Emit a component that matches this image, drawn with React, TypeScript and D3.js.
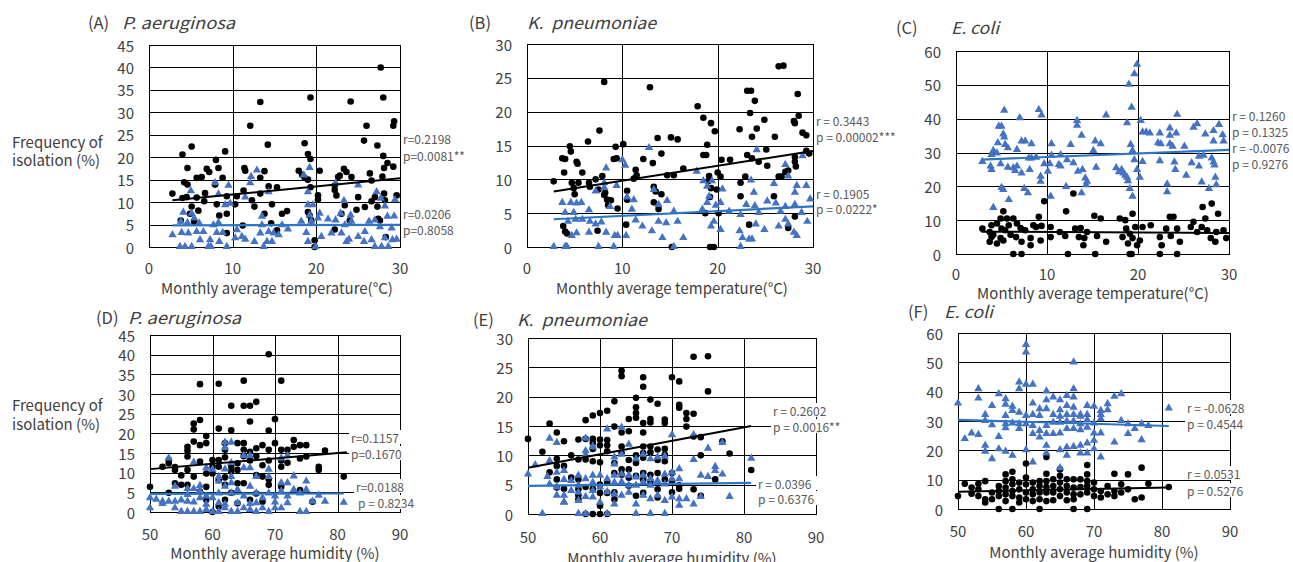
import React from 'react';
import * as d3 from 'd3';

type Pt = [number, number];

// ---------- DATA ----------
// Panel A: P. aeruginosa vs temperature
const A_circles: Pt[] = [[27.7,40],[13.3,32.3],[19.3,33.3],[24.1,32.4],[28.0,33.3],[12.1,27],[29.3,28],[29.2,27],[26,27],[4,20.6],[5.1,22.4],[9.1,21.3],[14.2,22.8],[18.6,23.1],[25.7,23.7],[27.3,22.6],[19,20.7],[19.3,19.6],[28.0,20.3],[4.6,17.6],[6.9,17.4],[7.2,16.7],[8.0,19.4],[8.3,17.6],[5.7,15.4],[6.3,15.6],[4.2,14.4],[4.6,13.9],[7.9,13.9],[8.8,15.4],[11.4,17.6],[11.5,17],[13.8,16.9],[13.3,15.4],[14.3,13.5],[15.3,13.3],[17.9,17],[18.3,16.1],[18.6,15.4],[19.0,15],[19.3,13.3],[20.4,17],[22.2,13.7],[22.6,15.6],[22.8,15.9],[23.3,17.4],[23.6,16.7],[24.2,15.6],[26.4,16.4],[26.6,14.8],[28.1,17.6],[28.5,18.7],[29.2,17.9],[27.9,15.7],[2.8,11.9],[4.0,10.9],[3.8,5.9],[4.5,11.1],[5.1,9],[4.9,7.4],[5.7,11],[6.7,12],[6.6,10.2],[8.1,9.5],[8.4,7],[9.3,11.3],[9.3,7.4],[10.3,9.5],[10.5,11.3],[11.3,12.6],[12.3,10.4],[12.6,9],[13.3,11.9],[13.8,7.4],[14.6,5.3],[14.7,9.5],[15.9,7.4],[16.5,8],[11.2,4.8],[15.3,3.7],[19.0,7.8],[19.2,7],[19.4,5.9],[19.8,1.5],[19.8,0],[20.2,11.5],[20.2,10.5],[22.2,12.7],[22.4,11.5],[23.0,7.4],[23.4,9.3],[24.0,5.9],[24.8,8.3],[25.0,11.1],[25.8,8.9],[26.6,10.2],[27.0,11.1],[27.3,9],[27.4,6.3],[27.6,5.9],[28.1,11.9],[28.2,10.4],[29.6,11.5],[28.3,2.2],[22.2,3.9],[5.4,5.6],[9.3,3.1],[5.9,8.1]];
const A_triangles: Pt[] = [[12.9,17],[19.2,17.6],[12.2,15.6],[7.9,14.2],[9.5,13.6],[5.0,12.4],[12.1,14.2],[22.3,14.2],[25.0,13.7],[18.5,15.9],[19.0,12.2],[14.3,12.2],[8.3,11.7],[11.5,11],[23.3,10.2],[27.2,12.2],[29.4,10.4],[27.7,10.7],[28.2,9],[9.1,9.3],[9.7,9.6],[4.1,7.6],[5.1,7.4],[5.4,6.3],[3.8,5.6],[4.6,5.3],[6.0,5.2],[7.7,4.8],[8.3,5.3],[10.5,3.7],[13.5,6.7],[13.5,4.8],[14.3,3.3],[14.9,3],[15.9,4.8],[16.6,3.9],[18.2,5.6],[19.0,9.3],[19.6,9.3],[19.2,7],[19.4,5.6],[20.2,6.3],[20.4,7.4],[21.4,6.1],[22.3,5.9],[22.9,7.4],[23.4,4.8],[24.1,7],[24.2,5.6],[25.8,3.3],[26.3,5.6],[27.0,5.9],[27.6,4.4],[28.5,6.7],[29.0,4.1],[29.3,6.8],[2.8,2.6],[3.9,3.1],[4.7,3],[5.7,3.3],[4.3,0],[5.1,0],[3.7,0],[7.1,0],[7.4,0],[9.3,0],[6.5,3.3],[7.3,1.5],[8.1,3.1],[8.8,3.1],[8.4,1.1],[6.1,1.5],[10.3,1.9],[11.1,2.2],[11.5,1.6],[12.6,1.1],[13.7,0],[14.1,1.1],[14.7,1.1],[13.3,3],[15.5,2.6],[18.8,3.1],[19.0,1.1],[19.9,0],[20.6,2.2],[21.8,3],[23.0,3],[23.6,1.1],[23.9,1.6],[25.0,2.2],[25.7,1.1],[26.6,1.5],[27.0,0],[27.8,0],[28.2,1.9],[29.1,1.5],[29.6,1.6],[28.6,0]];
const A_trendBlack: Pt[] = [[2.8,10.4],[30,15.3]];
const A_trendBlue: Pt[] = [[2.8,4.8],[30,4.95]];
const A_stats = ['r=0.2198', 'p=0.0081**', 'r=0.0206', 'p=0.8058'];

// Panel B: K. pneumoniae vs temperature
const B_circles: Pt[] = [[26.4,26.7],[26.9,26.8],[8.1,24.4],[12.9,23.6],[23.1,23.1],[23.5,23.1],[28.4,22.6],[23.9,21.6],[17.9,20.8],[18.5,19.1],[19.3,18.3],[19.7,17.1],[23.4,19.8],[24.9,18.8],[28.0,18.6],[28.1,18.3],[28.5,19.4],[22.3,17.4],[24.1,17.5],[23.6,16.3],[26.0,16.3],[28.9,16.9],[29.3,16.5],[7.6,17.2],[6.4,15.6],[4.5,14.9],[4.6,14.1],[3.7,13.1],[4.0,13.0],[5.2,12.6],[5.3,12.3],[3.9,11],[5.8,11],[2.8,9.7],[4.7,9.5],[4.9,8.7],[5.0,7.8],[5.4,9.5],[6.5,9.5],[6.6,8.9],[7.2,10],[7.9,10.5],[7.5,8.5],[8.1,7.7],[8.2,8],[8.4,7],[8.8,6.9],[8.5,6.2],[9.3,14.8],[9.1,13],[9.4,13.1],[10.1,15.2],[9.5,5.7],[3.8,3.1],[4.0,2.3],[4.2,2.0],[7.4,2.4],[10.5,8.3],[10.5,7],[10.4,3.3],[11.4,11.4],[11.5,10.6],[11.2,10.1],[12.2,13],[13.2,12.4],[13.7,16.1],[14.1,13.8],[15.1,16.2],[15.8,15.9],[13.3,8.9],[13.5,8.2],[13.3,6.6],[13.8,5.6],[14.1,7.8],[14.7,10.6],[15.4,10.6],[16.4,11.6],[18.5,13.6],[18.8,13.6],[18.9,15.1],[19.1,10.5],[19.0,9.7],[19.2,7.4],[19.3,8.7],[19.9,8.5],[20.0,11],[20.3,10.4],[20.4,12.9],[21.3,12.9],[22.4,9.5],[22.4,7.5],[22.9,10.4],[23.1,13.6],[23.6,13.1],[24.3,12.6],[25.2,12],[25.1,14.4],[25.9,7.5],[26.4,10.4],[26.7,10.4],[27.1,11.1],[27.4,11.3],[28.1,13.3],[28.1,12.6],[28.2,11.9],[29.3,14.2],[29.6,13.8],[23.3,3.3],[27.4,2.8],[28.1,4.5],[19.2,0],[19.6,0],[15.2,0],[18.7,5],[20.1,5]];
const B_triangles: Pt[] = [[12.8,14.6],[24.1,14.3],[28.9,13.4],[10.0,12.8],[10.3,12],[8.3,11.6],[17.8,11.1],[27.1,12.1],[27.4,10.4],[8.1,9.4],[8.1,8.7],[7.2,8.2],[9.4,9],[13.3,8.4],[10.5,7.3],[11.2,6.9],[14.7,6.8],[18.5,9.7],[18.9,8.9],[19.4,9.7],[20.5,8.5],[23.5,9.8],[23.8,8],[25.9,9.3],[28.1,8],[28.3,9],[29.3,9],[29.7,7],[3.7,6.5],[4.6,6.5],[5.2,6.4],[5.7,6.5],[4.0,5],[4.9,5],[6.5,5.4],[8.7,5.9],[11.0,5.5],[13.8,6.2],[15.4,5.2],[18.4,5.5],[18.9,6.5],[19.1,7.4],[19.8,6.1],[20.3,6.5],[21.2,5.2],[22.4,4.7],[23.0,6.2],[23.9,6],[24.3,5],[25.2,6.7],[26.1,6.4],[26.6,5.2],[27.1,5.9],[28.1,6.2],[28.8,5],[4.3,3.7],[5.1,4],[5.8,4],[6.6,3.7],[7.2,3.3],[7.8,3.6],[8.3,2.1],[6.5,2.1],[5.2,2],[4.7,1.6],[9.2,1.6],[9.5,1.6],[10.4,1.6],[11.4,3.9],[12.1,3],[13.1,2.3],[13.8,3.7],[14.6,3.5],[15.8,3.7],[14.2,1.3],[16.4,1.3],[19.6,3.7],[19.3,3],[20.3,2.5],[22.3,2.3],[22.6,1.3],[23.3,1.1],[23.6,1.1],[24.0,3.3],[24.9,2.5],[26.4,3],[27.1,4],[27.4,3.3],[28.0,2.1],[28.3,1.6],[29.4,3.7],[2.8,0],[4.0,0],[4.2,0],[7.5,0],[9.1,0],[15.4,0],[22.4,0]];
const B_trendBlack: Pt[] = [[2.8,8.2],[30,14.2]];
const B_trendBlue: Pt[] = [[2.8,4.1],[30,6.0]];
const B_stats = ['r = 0.3443', 'p = 0.00002***', 'r = 0.1905', 'p = 0.0222*'];

// Panel C: E. coli vs temperature
const C_triangles: Pt[] = [[19.9,55.9],[19.6,53.1],[19.0,50],[19.3,43.2],[18.8,38.6],[20.3,39.3],[5.3,42.3],[7.0,40.1],[9.1,42.5],[9.4,40.9],[16.5,40.9],[24.3,41.1],[4.7,37.6],[5.0,37.6],[5.2,35.3],[5.3,34.4],[4.6,32.7],[5.4,32.2],[5.7,31.2],[4.1,30.4],[4.5,29.7],[3.9,29.2],[2.9,27.2],[3.8,25.8],[3.9,24.8],[4.9,26.5],[5.7,25.5],[6.3,25.3],[6.5,24.5],[6.7,25.8],[7.2,23.8],[8.1,24.8],[7.2,33.2],[7.6,33.2],[8.3,32.4],[6.7,30.7],[8.0,28.2],[8.3,28.2],[8.8,28.4],[9.7,26.5],[9.3,22.8],[9.3,21.3],[5.0,19.5],[5.2,18.9],[7.5,19.2],[7.9,17.9],[5.8,15.9],[4.1,13.6],[10.5,29],[10.5,32.4],[10.1,24.3],[10.4,16.9],[11.5,29.2],[11.3,26.3],[11.5,25.8],[12.2,27.7],[12.6,32.2],[12.9,26.8],[13.3,39.3],[13.3,37.9],[13.4,24.3],[13.8,34.9],[13.9,24.8],[14.2,22.3],[14.4,21.3],[14.3,20.3],[13.8,17.9],[12.1,19.8],[15.3,33.2],[15.9,32.4],[15.1,30.4],[15.4,25.5],[17.6,25.3],[17.9,24.1],[18.2,24.8],[18.4,23.8],[18.6,23.1],[18.8,22.5],[18.9,21.5],[19.1,19.2],[19.4,16.9],[19.2,32.2],[19.4,30.4],[19.6,27.7],[19.9,24.8],[20.2,22.5],[20.5,35.9],[20.9,35.9],[21.3,35.6],[20.5,27.2],[22.4,35.6],[22.2,32.7],[22.5,32.4],[22.4,27.4],[23.2,20.5],[23.2,18.2],[23.5,37.1],[23.5,34.9],[24.2,35.6],[23.5,32.4],[23.8,31.7],[24.0,27],[24.1,24.8],[25.1,31.7],[25.3,23.1],[25.9,26.8],[26.1,37.3],[26.5,38.3],[26.7,28.7],[27.2,29],[26.7,25.8],[27.0,21.1],[27.4,35.3],[27.8,19.2],[28.1,28.2],[28.3,27],[28.4,26.1],[28.3,36.3],[28.6,20.3],[28.3,33.2],[28.9,38.1],[29.3,35.1],[29.4,33.2],[28.5,22.5],[10.3,26.5]];
const C_circles: Pt[] = [[12.9,17.9],[9.7,15.6],[12.1,12.6],[5.2,12.6],[19.4,11.9],[27.1,13.9],[28.1,14.9],[28.8,11.9],[15.2,11.3],[15.9,10.5],[18.0,10.5],[18.6,10],[23.5,11],[23.9,11],[4.9,10.5],[5.6,10.5],[6.3,10.5],[9.1,11],[3.9,8.5],[4.5,9],[2.9,7.5],[3.7,6.5],[4.1,5.7],[5.0,7.5],[5.4,7],[5.8,8.5],[6.7,9],[7.1,7.7],[7.6,7],[8.5,8.5],[8.8,8],[9.4,8.3],[4.9,4.7],[5.2,4],[4.5,3.1],[6.0,5.7],[6.6,5],[8.2,4.7],[8.2,2.6],[9.3,4],[6.3,0],[7.2,0],[10.4,8],[10.4,5],[11.4,6.5],[12.0,5.3],[12.3,0],[13.1,7.5],[13.7,7.7],[13.5,5],[14.1,4.7],[14.0,2.6],[14.4,6.5],[15.5,5.3],[15.3,0],[16.5,3.6],[18.3,5],[18.7,7.5],[18.9,3.1],[19.1,6],[19.4,4.7],[19.7,8],[19.1,0],[19.3,0],[19.9,2.6],[20.2,4],[20.5,8],[21.4,8.5],[22.4,5],[22.6,2.6],[22.4,0],[23.1,7.5],[23.6,5.3],[24.3,7.5],[24.3,0],[24.6,3.6],[25.8,8],[26.1,9.5],[26.5,6.5],[27.0,8],[27.4,10.5],[27.6,7],[28.0,4.7],[28.6,6.5],[29.4,7],[29.7,4.7],[28.5,3.6],[3.7,3.6],[7.2,3.6],[3.9,5]];
const C_trendBlue: Pt[] = [[2.8,27.9],[30,30.8]];
const C_trendBlack: Pt[] = [[2.8,6.6],[30,6.2]];
const C_stats = ['r = 0.1260', 'p = 0.1325', 'r = -0.0076', 'p = 0.9276'];

// Panel D: P. aeruginosa vs humidity
const D_circles: Pt[] = [[69,40.1],[58,32.5],[61,32.6],[65,33.4],[71,33.4],[63,27],[65,27],[66,27],[67,28],[57,21],[57,22.5],[58,23.4],[61,21.2],[63,20.8],[66,23],[69,20.7],[70,23.6],[59,19.3],[59,17.5],[58,17],[56,16.6],[56,15.6],[57,17.9],[58,12.8],[56,14.1],[54,11.4],[53,12.4],[53,13.2],[52,11.5],[50,6.4],[54,10.7],[55,9.3],[56,10.7],[57,9],[61,13.2],[62,17.5],[62,15.8],[61,11.5],[60,13.2],[60,11.5],[59,9.8],[60,9.8],[64,17.5],[65,17.5],[65,15.8],[65,14.2],[66,15.3],[67,16.2],[67,14.2],[66,13.1],[64,12.4],[63,11.5],[63,10.3],[64,10.7],[62,13.9],[62,8.8],[68,17],[69,15.8],[69,13.1],[70,17.5],[71,15.8],[72,15.8],[73,16.6],[73,18.3],[74,17],[75,17],[71,13.1],[71,11.5],[72,12.5],[74,13.6],[75,14.1],[78,15.6],[77,11.5],[77,10.7],[81,9],[68,11.9],[68,9],[69,8.3],[67,9.4],[65,7.3],[64,7.3],[62,6.9],[61,8.1],[59,6.4],[56,6.9],[55,6.9],[54,7.3],[53,4.9],[61,1.4],[60,0],[58,5.2],[63,4.9],[67,4.7],[69,6.9],[71,6.4],[74,5.6],[76,2.6],[68,2.6],[64,2.2],[66,3.1],[62,3.1],[59,3.1]];
const D_triangles: Pt[] = [[62,17.6],[63,17.6],[65,14.2],[66,14.2],[63,12.4],[62,16.2],[71,13.6],[72,14.2],[53,13.6],[57,12.5],[59,11.1],[60,10.7],[61,8.9],[61,7.7],[62,10.8],[65,11.1],[66,11.1],[63,8.9],[63,7.3],[67,8.9],[69,8.9],[69,10.7],[75,7.7],[71,7.3],[72,7.3],[73,9],[58,6.6],[58,5.2],[56,5.8],[57,5.8],[54,6.4],[50,3.5],[51,3.1],[52,2.6],[53,2.6],[54,2.6],[55,2.9],[56,2.6],[57,2.4],[58,3.5],[59,3.9],[60,3.5],[61,4.7],[62,6.4],[63,4.7],[64,5.6],[65,3.9],[66,6.4],[67,4.7],[68,3.5],[69,4.7],[70,3.9],[71,5.2],[72,3.9],[73,5.6],[74,4.7],[75,5.6],[76,2.6],[77,4.1],[78,2.6],[50,0.9],[54,0.9],[55,0],[56,0],[57,0],[58,0],[59,0.5],[60,0],[61,0],[62,0.9],[63,0],[64,0],[65,0.9],[66,0.5],[67,0],[68,0.9],[69,0],[70,0.9],[71,0.9],[74,0],[75,0],[72,2.2],[62,1.8],[66,2],[64,2.2],[59,1.8],[61,2.2],[67,2.2],[70,2.4],[56,4.3],[52,2],[81,2.3]];
const D_trendBlack: Pt[] = [[50,10.9],[81.5,15.2]];
const D_trendBlue: Pt[] = [[50,4.6],[81,4.7]];
const D_stats = ['r=0.1157', 'p=0.1670', 'r=0.0188', 'p = 0.8234'];

// Panel E: K. pneumoniae vs humidity
const E_circles: Pt[] = [[73,26.8],[75,26.9],[63,24.4],[63,23.5],[66,23.3],[66,21.7],[70,23.3],[71,22.6],[75,20.9],[65,19.8],[65,18.2],[62,19.2],[67,19.5],[68,18.8],[71,18.6],[71,18.1],[60,17.2],[61,17.6],[58,16],[59,16.8],[65,17.2],[65,16.4],[64,16.2],[66,15.5],[67,16.2],[67,15.6],[69,16.1],[69,15.5],[72,17.2],[72,16.2],[73,17.1],[62,14.9],[63,13.9],[64,14.1],[66,13.9],[53,15.4],[54,13.9],[50,12.8],[52,10.6],[55,12.4],[57,12.7],[58,12.8],[59,12.8],[59,12.1],[59,11.1],[60,12.7],[60,11.7],[61,12.6],[61,11.7],[56,10],[54,9.4],[57,9.3],[58,9.3],[59,9],[60,8.8],[61,10.7],[62,8.7],[63,11.5],[63,10.4],[64,9.2],[65,10],[65,8.7],[66,11.5],[66,10.4],[66,9.6],[67,11.5],[67,10.5],[68,11],[69,11.1],[69,10.1],[68,9.2],[69,9],[74,10],[78,10.3],[77,12.4],[72,14.9],[73,13.2],[74,13.1],[54,8.2],[55,8.2],[53,7.1],[54,5.9],[56,6.2],[57,5.9],[57,4.2],[55,4.3],[54,4.5],[57,3.2],[57,2.5],[59,4.3],[60,5],[61,5.3],[62,7],[63,7.6],[63,6.7],[64,7.6],[64,6.2],[65,6.5],[66,7],[66,5.9],[67,6.7],[67,5.6],[68,7],[70,7],[69,5.9],[70,5.6],[71,4.9],[71,4.3],[64,4.8],[61,3.6],[62,3.7],[65,3.1],[66,3.6],[68,4.2],[70,3.7],[73,4.2],[74,3.1],[76,5.9],[81,7.5],[58,0],[59,0],[60,0],[61,0],[62,2.5],[58,4.6],[60,1.4],[68,2.8],[60,3.6]];
const E_triangles: Pt[] = [[61,14.4],[63,14.7],[70,13.4],[73,13.4],[77,12.1],[53,12.8],[54,12.1],[51,8.3],[53,9],[55,7.3],[58,12.8],[58,10.7],[58,10],[59,11.5],[59,11.3],[64,11.8],[65,9.3],[66,10.1],[63,10.1],[62,9.6],[62,8.4],[67,9.3],[68,9.6],[69,9.8],[71,7.6],[73,9.2],[75,11.1],[76,8],[77,6.7],[74,6.5],[75,6.3],[50,6.7],[52.7,6.3],[54,7],[53,5],[54,4.5],[55,5.8],[56,5.6],[57,6.5],[57,4.8],[58,5.9],[59,6.5],[59,5.3],[60,6.5],[61,5.9],[62,6.5],[62,5.3],[63,6.7],[63,5.4],[64,6.5],[64,4.8],[65,6.2],[65,4.8],[66,6.5],[66,5.3],[67,5.9],[67,4.8],[68,5.6],[69,6.7],[69,5],[70,7],[70,5.9],[71,5.9],[76,7.3],[81,9.4],[54,3.1],[55,2],[55,3.1],[56,3.9],[57,3.6],[57,2.2],[58,2.9],[59,3.9],[59,2.8],[60,1.9],[61,3.7],[62,3.3],[62,1.6],[63,3.1],[64,3.6],[65,1.6],[66,3.1],[67,2.5],[68,3.1],[69,2.2],[70,2.8],[71,2.5],[71,1.4],[72,2.5],[73,1.6],[74,2.9],[78,2.9],[52,0],[57,0],[58,0],[61,0],[65,0],[67,0],[69,0],[55,1.9],[60,4.5]];
const E_trendBlack: Pt[] = [[50,7.9],[81,15.0]];
const E_trendBlue: Pt[] = [[50,4.8],[81,5.3]];
const E_stats = ['r = 0.2602', 'p = 0.0016**', 'r = 0.0396', 'p = 0.6376'];

// Panel F: E. coli vs humidity
const F_triangles: Pt[] = [[60,55.9],[60,53.3],[67,49.9],[59,43.1],[59,40.8],[60,42.3],[61,42.3],[50,35.9],[53,40.8],[53,37.6],[56,39.1],[57,37.4],[57,35.5],[55,35.1],[58,34.8],[58,33.4],[59,32.8],[61,35.9],[63,40],[63,37],[64,38],[65,37],[66,38.5],[67,40.8],[67,38],[66,35.1],[62,34],[63,34],[65,33.6],[67,34.5],[69,35.1],[73,38.2],[74,39.1],[70,34.8],[72,35.7],[72,33.6],[54,32],[54,30],[57,31.7],[60,31.7],[61,32],[62,31.7],[64,32],[65,31.4],[66,32],[67,32],[68,31.4],[68,32],[69,32],[71,32],[51,23.8],[52,25.7],[53,25.2],[55,28.5],[56,24.5],[57,27.5],[57,28.9],[58,29.1],[59,28.9],[59,27.2],[60,28.9],[61,28.3],[61,25.5],[62,26.6],[62,24.3],[63,28.3],[63,25.5],[64,29.4],[64,25.5],[65,29.4],[65,25.7],[66,29.8],[66,27.2],[67,29.8],[67,27.2],[68,28.9],[68,26.8],[69,30.2],[69,27.7],[70,29.1],[70,25.7],[71,30.6],[71,25.7],[71,33.4],[74,30],[75,28.9],[76,27.2],[77,28.9],[78,28.3],[75,25.5],[77,23.4],[73,22.6],[81,34.2],[54,21.5],[54,19.5],[55,16.9],[56,20.3],[57,19.5],[58,18.1],[60,20],[61,15.8],[63,21.5],[63,18.9],[65,20],[66,20.9],[66,18.1],[67,21.1],[68,21.5],[68,18.9],[69,22.3],[69,18.9],[70,20.3],[70,23.2],[71,17.5],[65,13.9]];
const F_circles: Pt[] = [[63,17.7],[60,15.5],[69,15],[77,14.1],[58,12.7],[57,11.8],[63,12],[65,13.5],[73,12],[75,11.8],[51,8.6],[53,8.6],[54,9.5],[53,6.7],[52,5.2],[53,4.4],[50,4.4],[55,5.6],[54,3.3],[54,2.2],[56,7.8],[56,6.1],[56,4.4],[57,9.5],[57,7.3],[57,5],[57,2.7],[58,10.1],[58,8.4],[58,6.1],[58,4.4],[59,6.7],[59,3.9],[59,2.2],[60,10.7],[60,8.4],[60,5.6],[60,3.3],[61,9],[61,6.7],[61,5],[61,2.7],[62,9.5],[62,7.8],[62,5.6],[62,3.3],[63,9.5],[63,7.5],[63,5.6],[63,2.7],[64,10.1],[64,7.8],[64,5.6],[64,3],[65,11.3],[65,9],[65,6.7],[65,4.4],[66,10.1],[66,7.8],[66,5.6],[66,3],[67,10.1],[67,7.3],[67,5],[67,3.3],[68,10.1],[68,7.5],[68,5],[69,11.8],[69,9.5],[69,7.8],[69,5.6],[70,9],[70,6.7],[70,4.4],[71,6.1],[71,3.9],[72,7.8],[72,5],[73,6.1],[73,4.4],[74,8.4],[74,5.6],[75,6.7],[76,3.3],[77,3.9],[78,8.6],[81,7.5],[56,0],[58,0],[62,0],[67,0],[69,0],[55,3.3],[52,7.3],[59,9]];
const F_trendBlue: Pt[] = [[50,30.4],[81,28.3]];
const F_trendBlack: Pt[] = [[50,5.9],[81,7.3]];
const F_stats = ['r = -0.0628', 'p = 0.4544', 'r = 0.0531', 'p = 0.5276'];

const tempTicks = [0, 10, 20, 30];
const humTicks = [50, 60, 70, 80, 90];
const letters = ['(A)', '(B)', '(C)', '(D)', '(E)', '(F)'];
const species = ['P. aeruginosa', 'K.  pneumoniae', 'E. coli', 'P. aeruginosa', 'K.  pneumoniae', 'E. coli'];
const xTitles = ['Monthly average temperature(°C)', 'Monthly average humidity (%)'];
const yTitleLines = ['Frequency of', 'isolation (%)'];

// ---------- LAYOUT ----------
const FONT = '"Noto Sans CJK JP", "Noto Sans", sans-serif';
const BLUE = '#4472C4';
const BLUE_LINE = '#2E75C6';
const TXT = '#404040';
const STAT = '#595959';

interface Panel {
  x0: number; x1: number; y0: number; y1: number;
  xDom: [number, number]; yMax: number; yStep: number;
  xTicks: number[]; vGrid: number[];
  circles: Pt[]; triangles: Pt[]; trendBlack: Pt[]; trendBlue: Pt[];
  stats: string[]; statX: number[]; statY: number[]; statBox: boolean;
  letterX: number; speciesX: number; speciesW: number; titleY: number;
  xTitle: string; xTitleX: number; xTitleY: number; tickY: number;
  yTitleYs?: number[];
}

const panels: Panel[] = [
  { x0: 149, x1: 400, y0: 45, y1: 247, xDom: [0, 30], yMax: 45, yStep: 5, xTicks: tempTicks, vGrid: [10, 20],
    circles: A_circles, triangles: A_triangles, trendBlack: A_trendBlack, trendBlue: A_trendBlue,
    stats: A_stats, statX: [403, 403, 403, 403], statY: [138, 155, 213, 229], statBox: false,
    letterX: 88, speciesX: 122, speciesW: 113, titleY: 22, xTitle: xTitles[0], xTitleX: 277, xTitleY: 287, tickY: 267, yTitleYs: [141, 159] },
  { x0: 527, x1: 813, y0: 44, y1: 247, xDom: [0, 30], yMax: 30, yStep: 5, xTicks: tempTicks, vGrid: [10, 20],
    circles: B_circles, triangles: B_triangles, trendBlack: B_trendBlack, trendBlue: B_trendBlue,
    stats: B_stats, statX: [816, 816, 816, 816], statY: [120, 136, 193, 208], statBox: false,
    letterX: 469, speciesX: 527, speciesW: 129, titleY: 22, xTitle: xTitles[0], xTitleX: 672, xTitleY: 287, tickY: 267 },
  { x0: 956, x1: 1229, y0: 51, y1: 254, xDom: [0, 30], yMax: 60, yStep: 10, xTicks: tempTicks, vGrid: [10, 20],
    circles: C_circles, triangles: C_triangles, trendBlack: C_trendBlack, trendBlue: C_trendBlue,
    stats: C_stats, statX: [1232, 1232, 1232, 1232], statY: [115, 131, 147, 163], statBox: false,
    letterX: 896, speciesX: 951, speciesW: 48, titleY: 27, xTitle: xTitles[0], xTitleX: 1093, xTitleY: 292, tickY: 273 },
  { x0: 150, x1: 400, y0: 335, y1: 512, xDom: [50, 90], yMax: 45, yStep: 5, xTicks: humTicks, vGrid: [60, 70, 80],
    circles: D_circles, triangles: D_triangles, trendBlack: D_trendBlack, trendBlue: D_trendBlue,
    stats: D_stats, statX: [351, 351, 356, 358], statY: [437, 453, 486, 502], statBox: true,
    letterX: 96, speciesX: 128, speciesW: 113, titleY: 317, xTitle: xTitles[1], xTitleX: 275, xTitleY: 552, tickY: 533, yTitleYs: [404, 423] },
  { x0: 528, x1: 816, y0: 338, y1: 514, xDom: [50, 90], yMax: 30, yStep: 5, xTicks: humTicks, vGrid: [60, 70, 80],
    circles: E_circles, triangles: E_triangles, trendBlack: E_trendBlack, trendBlue: E_trendBlue,
    stats: E_stats, statX: [773, 773, 758, 758], statY: [410, 426, 483, 498], statBox: true,
    letterX: 473, speciesX: 517, speciesW: 130, titleY: 319, xTitle: xTitles[1], xTitleX: 672, xTitleY: 557, tickY: 536 },
  { x0: 958, x1: 1230, y0: 333, y1: 509, xDom: [50, 90], yMax: 60, yStep: 10, xTicks: humTicks, vGrid: [60, 70, 80],
    circles: F_circles, triangles: F_triangles, trendBlack: F_trendBlack, trendBlue: F_trendBlue,
    stats: F_stats, statX: [1187, 1187, 1187, 1187], statY: [407, 423, 473, 490], statBox: true,
    letterX: 908, speciesX: 944, speciesW: 49, titleY: 311, xTitle: xTitles[1], xTitleX: 1094, xTitleY: 551, tickY: 530 },
];

const triPath = d3.symbol().type(d3.symbolTriangle).size(30)() as string;

function PanelView({ p, i }: { p: Panel; i: number }) {
  const x = d3.scaleLinear().domain(p.xDom).range([p.x0, p.x1]);
  const y = d3.scaleLinear().domain([0, p.yMax]).range([p.y1, p.y0]);
  const yTicks = d3.range(0, p.yMax + 0.001, p.yStep);
  const line = d3.line<Pt>().x(d => x(d[0])).y(d => y(d[1]));
  const snap = (v: number) => Math.round(v) + 0.5;
  return (
    <g>
      {/* grid */}
      {yTicks.map(t => (
        <line key={'h' + t} x1={p.x0} x2={p.x1} y1={snap(y(t))} y2={snap(y(t))} stroke="#000" strokeWidth={1} />
      ))}
      {p.vGrid.map(t => (
        <line key={'v' + t} x1={snap(x(t))} x2={snap(x(t))} y1={p.y0} y2={p.y1} stroke="#000" strokeWidth={1} />
      ))}
      <rect x={p.x0 + 0.5} y={snap(p.y0)} width={p.x1 - p.x0} height={Math.round(p.y1) - Math.round(p.y0)} fill="none" stroke="#000" strokeWidth={1} />
      {/* y tick labels */}
      {yTicks.map(t => (
        <text key={'yt' + t} x={p.x0 - 15} y={y(t)} textAnchor="end" dominantBaseline="central"
          fontSize={15} fill={TXT} fontFamily={FONT}>{t}</text>
      ))}
      {p.xTicks.map(t => (
        <text key={'xt' + t} x={x(t)} y={p.tickY} textAnchor="middle" dominantBaseline="central"
          fontSize={15} fill={TXT} fontFamily={FONT}>{t}</text>
      ))}
      {/* points */}
      {p.circles.map((d, k) => (
        <circle key={'c' + k} cx={x(d[0])} cy={y(d[1])} r={3.3} fill="#000" />
      ))}
      {p.triangles.map((d, k) => (
        <path key={'t' + k} d={triPath} transform={`translate(${x(d[0])},${y(d[1]) - 0.5})`} fill={BLUE} />
      ))}
      {/* trend lines */}
      <path d={line(p.trendBlack) as string} stroke="#000" strokeWidth={2} fill="none" />
      <path d={line(p.trendBlue) as string} stroke={BLUE_LINE} strokeWidth={2.2} fill="none" />
      {/* stats */}
      {p.stats.map((s, k) => (
        <g key={'s' + k}>
          {p.statBox && (
            <rect x={p.statX[k] - 2} y={p.statY[k] - 7} width={s.length * 6.6 + 4} height={14} fill="#fff" />
          )}
          <text x={p.statX[k]} y={p.statY[k]} dominantBaseline="central" fontSize={12} fill={STAT} fontFamily={FONT}
            style={{ whiteSpace: 'pre' }}>{s}</text>
        </g>
      ))}
      {/* titles */}
      <text x={p.letterX} y={p.titleY} dominantBaseline="central" fontSize={16.5} fill={TXT} fontFamily={FONT}>{letters[i]}</text>
      <text x={p.speciesX} y={p.titleY} dominantBaseline="central" fontSize={16.5} fill={TXT} fontFamily={FONT}
        fontStyle="italic" textLength={p.speciesW} lengthAdjust="spacingAndGlyphs" style={{ whiteSpace: 'pre' }}>{species[i]}</text>
      <text x={p.xTitleX} y={p.xTitleY} textAnchor="middle" dominantBaseline="central" fontSize={15} fill={TXT} fontFamily={FONT}>{p.xTitle}</text>
      {p.yTitleYs && (
        <text x={12} y={p.yTitleYs[0]} dominantBaseline="central" fontSize={15} fill={TXT} fontFamily={FONT}>
          {yTitleLines.map((l, k) => (
            <tspan key={k} x={12} y={p.yTitleYs![k]}>{l}</tspan>
          ))}
        </text>
      )}
    </g>
  );
}

export default function App() {
  return (
    <svg width={1293} height={562} style={{ position: 'absolute', left: 0, top: 0, background: '#fff' }}>
      <rect x={0} y={0} width={1293} height={562} fill="#fff" />
      {panels.map((p, i) => <PanelView key={i} p={p} i={i} />)}
    </svg>
  );
}
